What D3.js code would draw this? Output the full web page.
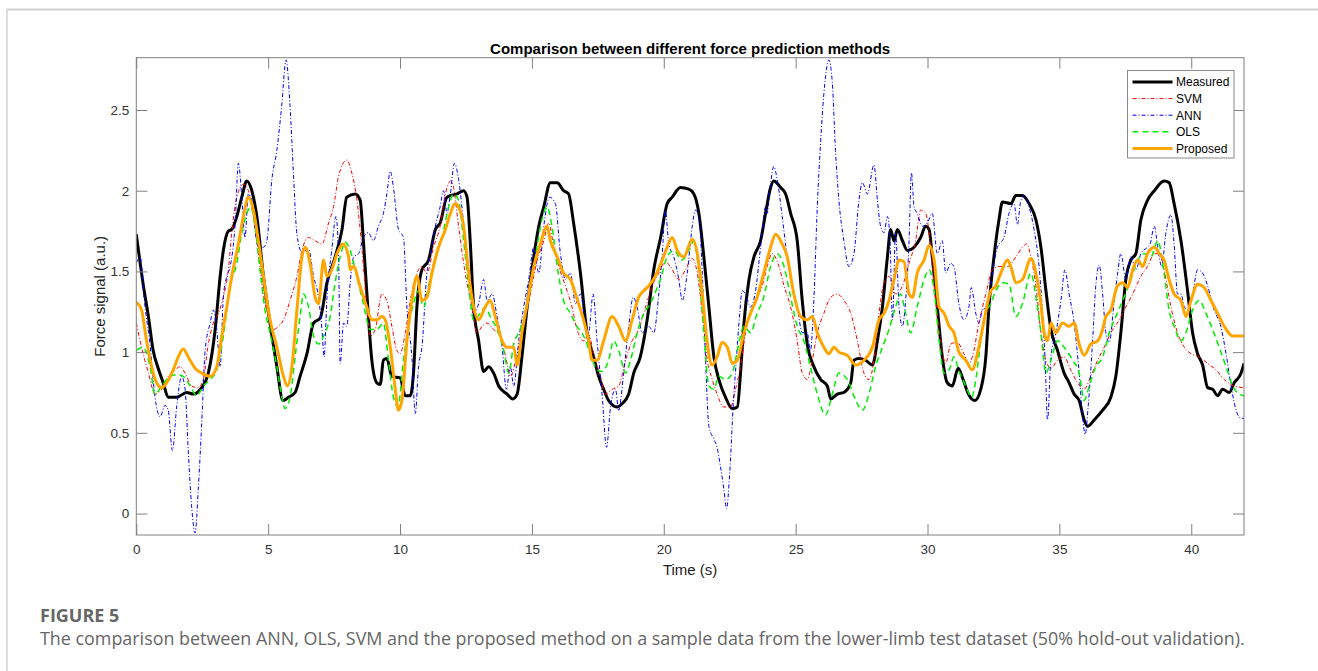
<!DOCTYPE html>
<html>
<head>
<meta charset="utf-8">
<script src="https://cdn.jsdelivr.net/npm/d3@7"></script>
<style>
  body { margin: 0; background: #fff; }
  svg { display: block; }
</style>
</head>
<body>
<svg id="chart" width="1318" height="671"></svg>
<script>
// series: [time (s), force (a.u.)]
const measured = [[0,1.73],[0.27,1.41],[0.46,1.22],[0.64,1.01],[0.83,0.90],[1.02,0.81],[1.21,0.72],[1.53,0.72],[1.91,0.75],[2.16,0.74],[2.48,0.78],[2.73,0.87],[2.99,1.14],[3.18,1.47],[3.30,1.63],[3.49,1.75],[3.62,1.76],[3.81,1.84],[4.0,1.96],[4.19,2.06],[4.38,2.0],[4.57,1.84],[4.82,1.47],[5.07,1.18],[5.33,0.91],[5.56,0.70],[5.77,0.72],[6.02,0.75],[6.21,0.85],[6.47,0.99],[6.72,1.18],[6.97,1.21],[7.23,1.43],[7.54,1.59],[7.80,1.76],[7.98,1.96],[8.30,1.98],[8.49,1.94],[8.61,1.69],[8.74,1.37],[8.93,0.95],[9.12,0.81],[9.25,0.80],[9.37,0.95],[9.50,0.96],[9.69,0.85],[10.0,0.84],[10.2,0.73],[10.39,0.73],[10.51,0.87],[10.64,1.28],[10.83,1.51],[11.08,1.57],[11.34,1.76],[11.52,1.80],[11.78,1.96],[12.16,1.98],[12.41,2.0],[12.54,1.96],[12.66,1.69],[12.79,1.28],[12.98,1.07],[13.17,0.88],[13.36,0.91],[13.55,0.87],[13.74,0.79],[14.06,0.74],[14.27,0.71],[14.44,0.74],[14.62,0.97],[14.82,1.28],[15.07,1.59],[15.26,1.78],[15.45,1.90],[15.70,2.05],[15.96,2.05],[16.2,2.0],[16.39,1.98],[16.58,1.80],[16.84,1.49],[17.09,1.12],[17.34,0.97],[17.53,0.85],[17.72,0.77],[17.91,0.70],[18.23,0.66],[18.42,0.68],[18.67,0.74],[18.86,0.87],[19.11,0.97],[19.37,1.20],[19.62,1.51],[19.88,1.71],[20.13,1.92],[20.32,1.96],[20.63,2.02],[20.95,2.01],[21.14,1.98],[21.33,1.86],[21.52,1.59],[21.71,1.28],[21.9,0.97],[22.09,0.83],[22.34,0.72],[22.6,0.65],[22.79,0.66],[22.91,0.87],[23.04,1.18],[23.23,1.45],[23.42,1.59],[23.67,1.69],[23.86,1.86],[24.05,2.02],[24.17,2.06],[24.43,2.02],[24.62,1.98],[24.81,1.86],[25.06,1.69],[25.25,1.32],[25.44,1.05],[25.69,0.91],[25.95,0.83],[26.2,0.79],[26.33,0.71],[26.58,0.74],[26.83,0.75],[27.09,0.81],[27.21,0.95],[27.40,0.96],[27.65,0.95],[27.91,0.92],[28.1,1.07],[28.29,1.28],[28.48,1.59],[28.6,1.76],[28.73,1.69],[28.86,1.76],[29.05,1.69],[29.24,1.63],[29.49,1.65],[29.74,1.71],[29.93,1.78],[30.06,1.76],[30.18,1.59],[30.37,1.28],[30.56,0.97],[30.75,0.81],[30.94,0.79],[31.16,0.90],[31.35,0.83],[31.55,0.74],[31.8,0.70],[32.02,0.77],[32.21,0.97],[32.33,1.28],[32.52,1.59],[32.71,1.82],[32.84,1.93],[33.16,1.92],[33.35,1.97],[33.6,1.97],[33.85,1.92],[34.11,1.82],[34.3,1.65],[34.49,1.38],[34.68,1.14],[34.93,1.01],[35.18,0.87],[35.37,0.81],[35.56,0.74],[35.75,0.70],[35.94,0.58],[36.07,0.54],[36.32,0.58],[36.64,0.64],[36.95,0.72],[37.14,0.85],[37.33,1.12],[37.52,1.45],[37.71,1.57],[37.9,1.61],[38.09,1.82],[38.34,1.94],[38.6,2.0],[38.97,2.06],[39.16,2.05],[39.35,1.92],[39.61,1.69],[39.86,1.38],[40.05,1.12],[40.24,0.99],[40.43,0.92],[40.62,0.78],[40.81,0.77],[41.0,0.73],[41.19,0.77],[41.44,0.75],[41.63,0.81],[41.89,0.87],[42,0.93]];

const svm = [[0,1.18],[0.2,1.03],[0.46,0.87],[0.71,0.74],[0.96,0.77],[1.21,0.85],[1.47,0.89],[1.66,0.91],[1.85,0.87],[2.10,0.79],[2.35,0.78],[2.54,0.83],[2.73,1.05],[2.92,1.18],[3.11,1.24],[3.30,1.34],[3.49,1.51],[3.62,1.74],[3.81,1.96],[4.06,2.04],[4.25,2.0],[4.44,1.84],[4.63,1.61],[4.82,1.36],[5.01,1.22],[5.20,1.14],[5.39,1.16],[5.58,1.20],[5.83,1.32],[6.09,1.47],[6.28,1.63],[6.53,1.71],[6.78,1.69],[7.04,1.67],[7.29,1.80],[7.48,1.90],[7.67,2.09],[7.98,2.19],[8.17,2.11],[8.36,1.95],[8.55,1.65],[8.74,1.28],[8.87,1.10],[9.06,1.14],[9.31,1.36],[9.50,1.32],[9.69,1.16],[9.88,1.01],[10.0,0.99],[10.2,1.12],[10.39,1.32],[10.64,1.49],[10.83,1.53],[11.02,1.49],[11.27,1.65],[11.52,1.78],[11.72,1.98],[11.91,2.06],[12.03,2.02],[12.22,1.78],[12.47,1.49],[12.73,1.28],[12.92,1.12],[13.11,1.16],[13.30,1.18],[13.55,1.14],[13.80,1.10],[14.06,0.93],[14.18,0.85],[14.44,0.99],[14.69,1.18],[14.94,1.36],[15.20,1.57],[15.45,1.69],[15.64,1.80],[15.83,1.65],[16.02,1.53],[16.27,1.41],[16.52,1.28],[16.71,1.14],[16.96,1.07],[17.15,1.11],[17.34,0.99],[17.60,0.85],[17.79,0.74],[18.04,0.77],[18.29,0.79],[18.55,0.95],[18.80,1.07],[19.05,1.14],[19.31,1.28],[19.56,1.41],[19.81,1.49],[20.06,1.56],[20.25,1.53],[20.57,1.45],[20.82,1.51],[21.08,1.58],[21.27,1.49],[21.46,1.24],[21.65,0.95],[21.84,0.83],[22.02,0.74],[22.28,0.66],[22.53,0.66],[22.72,0.77],[22.91,0.91],[23.10,1.12],[23.29,1.24],[23.48,1.32],[23.73,1.41],[23.92,1.53],[24.11,1.61],[24.37,1.53],[24.56,1.41],[24.81,1.28],[25.06,1.07],[25.25,0.87],[25.44,0.83],[25.63,0.95],[25.82,1.12],[26.07,1.24],[26.33,1.34],[26.58,1.36],[26.83,1.32],[27.09,1.24],[27.34,1.07],[27.59,0.87],[27.78,0.83],[27.97,0.95],[28.16,1.24],[28.35,1.43],[28.54,1.47],[28.79,1.36],[29.05,1.41],[29.30,1.55],[29.55,1.69],[29.74,1.88],[29.93,1.86],[30.12,1.65],[30.31,1.32],[30.50,1.07],[30.69,0.93],[30.88,1.05],[31.13,1.06],[31.38,0.99],[31.57,0.93],[31.70,0.97],[31.95,1.18],[32.21,1.36],[32.46,1.51],[32.71,1.53],[33.03,1.53],[33.35,1.59],[33.60,1.65],[33.76,1.67],[33.92,1.59],[34.11,1.41],[34.30,1.12],[34.49,0.95],[34.68,0.90],[34.93,0.95],[35.18,0.97],[35.43,0.89],[35.69,0.81],[35.94,0.77],[36.19,0.85],[36.45,0.95],[36.70,1.03],[36.95,1.12],[37.27,1.20],[37.52,1.28],[37.78,1.36],[38.09,1.47],[38.34,1.53],[38.60,1.61],[38.79,1.61],[38.97,1.51],[39.23,1.28],[39.48,1.12],[39.74,1.03],[39.99,0.99],[40.30,0.97],[40.62,0.93],[40.94,0.89],[41.25,0.83],[41.63,0.79],[42,0.78]];

const ann = [[0,1.55],[0.14,1.59],[0.33,1.28],[0.52,1.05],[0.71,0.72],[0.90,0.60],[1.09,0.67],[1.21,0.64],[1.37,0.39],[1.53,0.66],[1.72,0.85],[1.85,0.77],[1.97,0.39],[2.10,0.04],[2.23,-0.12],[2.35,0.15],[2.48,0.56],[2.61,1.01],[2.80,1.18],[2.92,1.26],[3.05,1.14],[3.18,0.91],[3.30,1.34],[3.43,1.47],[3.56,1.53],[3.75,1.80],[3.87,2.17],[4.0,1.96],[4.12,1.71],[4.25,1.98],[4.38,1.94],[4.50,1.76],[4.63,1.65],[4.82,1.65],[4.95,1.69],[5.14,2.07],[5.33,2.25],[5.51,2.52],[5.68,2.81],[5.83,2.52],[5.96,2.10],[6.09,1.73],[6.28,1.62],[6.53,1.64],[6.72,1.47],[6.91,1.34],[7.04,1.14],[7.12,0.97],[7.23,1.34],[7.41,1.63],[7.57,1.84],[7.67,1.59],[7.73,0.93],[7.86,1.18],[7.98,1.16],[8.11,1.43],[8.24,1.59],[8.43,1.61],[8.61,1.71],[8.80,1.74],[8.99,1.69],[9.18,1.78],[9.37,1.86],[9.50,1.98],[9.63,2.12],[9.75,2.02],[9.94,1.76],[10.13,1.71],[10.26,1.28],[10.45,0.97],[10.58,0.62],[10.70,0.91],[10.83,1.03],[11.02,1.49],[11.15,1.61],[11.34,1.78],[11.52,1.90],[11.65,2.0],[11.78,1.86],[11.91,1.98],[12.06,2.17],[12.22,2.07],[12.41,1.80],[12.60,1.51],[12.79,1.24],[12.98,1.30],[13.17,1.45],[13.30,1.32],[13.49,1.36],[13.68,1.22],[13.87,1.03],[14.03,0.77],[14.18,0.91],[14.31,0.79],[14.50,1.07],[14.69,1.28],[14.88,1.45],[15.07,1.65],[15.26,1.49],[15.45,1.78],[15.67,1.96],[15.89,1.92],[16.08,1.61],[16.27,1.45],[16.46,1.49],[16.65,1.30],[16.84,1.36],[17.03,1.18],[17.15,1.12],[17.32,1.36],[17.47,1.07],[17.66,0.74],[17.83,0.41],[17.98,0.66],[18.17,0.77],[18.29,0.64],[18.48,0.87],[18.67,1.16],[18.84,1.34],[18.99,1.28],[19.18,1.12],[19.43,1.16],[19.62,1.12],[19.81,1.36],[19.94,1.60],[20.06,1.88],[20.19,1.67],[20.38,1.59],[20.57,1.45],[20.70,1.32],[20.89,1.49],[21.08,1.78],[21.20,1.88],[21.33,1.84],[21.46,1.49],[21.58,0.97],[21.71,0.54],[21.90,0.46],[22.02,0.41],[22.15,0.29],[22.28,0.15],[22.38,0.03],[22.50,0.25],[22.63,0.66],[22.76,0.97],[22.88,1.24],[22.97,1.38],[23.10,1.36],[23.29,1.28],[23.48,1.38],[23.67,1.65],[23.86,1.90],[23.92,1.86],[24.02,2.0],[24.17,2.15],[24.30,2.07],[24.49,1.84],[24.68,1.59],[24.87,1.41],[25.06,1.28],[25.25,1.12],[25.44,1.12],[25.56,1.01],[25.69,1.32],[25.82,1.90],[25.95,2.31],[26.07,2.60],[26.26,2.81],[26.39,2.67],[26.51,2.25],[26.64,1.94],[26.83,1.69],[27.02,1.53],[27.21,1.61],[27.40,1.94],[27.53,2.05],[27.72,1.98],[27.97,2.16],[28.10,1.94],[28.22,1.78],[28.35,1.74],[28.48,1.84],[28.58,1.69],[28.67,1.20],[28.79,1.74],[28.92,1.28],[29.05,1.16],[29.17,1.32],[29.30,1.69],[29.39,2.11],[29.49,1.90],[29.61,1.86],[29.80,1.78],[29.99,1.80],[30.18,1.86],[30.37,1.61],[30.56,1.69],[30.69,1.49],[30.88,1.55],[31.0,1.53],[31.19,1.30],[31.38,1.20],[31.57,1.28],[31.66,1.40],[31.83,1.24],[31.95,1.18],[32.08,1.26],[32.27,1.28],[32.46,1.49],[32.65,1.65],[32.90,1.71],[33.09,1.86],[33.28,1.92],[33.41,1.79],[33.54,1.94],[33.69,1.97],[33.85,1.90],[34.04,1.76],[34.23,1.53],[34.36,1.24],[34.46,0.95],[34.55,0.58],[34.68,0.97],[34.87,1.12],[35.06,1.32],[35.21,1.51],[35.37,1.36],[35.56,1.18],[35.75,0.87],[35.88,0.60],[35.98,0.49],[36.09,0.66],[36.26,1.07],[36.38,1.41],[36.51,1.54],[36.64,1.36],[36.76,1.12],[36.89,1.06],[37.08,1.32],[37.21,1.49],[37.33,1.61],[37.52,1.45],[37.71,1.59],[37.90,1.51],[38.09,1.61],[38.34,1.65],[38.44,1.67],[38.60,1.78],[38.73,1.65],[38.88,1.53],[39.04,1.74],[39.23,1.85],[39.35,1.67],[39.48,1.36],[39.61,1.36],[39.74,1.28],[39.86,1.26],[40.05,1.36],[40.24,1.51],[40.43,1.49],[40.62,1.41],[40.87,1.26],[41.12,1.16],[41.32,0.99],[41.51,0.79],[41.70,0.64],[41.89,0.59],[42,0.59]];

const ols = [[0,1.01],[0.26,1.03],[0.52,0.91],[0.71,0.74],[0.96,0.79],[1.28,0.85],[1.53,0.86],[1.78,0.85],[2.04,0.79],[2.29,0.73],[2.54,0.79],[2.80,0.83],[3.05,0.89],[3.30,1.10],[3.56,1.41],[3.81,1.55],[4.0,1.74],[4.19,1.86],[4.34,1.90],[4.50,1.78],[4.69,1.51],[4.88,1.26],[5.07,1.12],[5.33,0.91],[5.52,0.72],[5.64,0.65],[5.83,0.72],[6.02,0.97],[6.21,1.22],[6.34,1.36],[6.53,1.28],[6.72,1.10],[6.91,1.05],[7.10,1.10],[7.35,1.22],[7.54,1.43],[7.73,1.59],[7.92,1.68],[8.11,1.63],[8.36,1.47],[8.61,1.30],[8.87,1.14],[9.12,1.14],[9.37,1.18],[9.56,0.95],[9.75,0.72],[9.92,0.66],[10.13,0.95],[10.32,1.16],[10.51,1.30],[10.70,1.38],[10.89,1.28],[11.08,1.41],[11.34,1.59],[11.59,1.71],[11.84,1.90],[12.03,1.98],[12.22,1.94],[12.41,1.69],[12.6,1.41],[12.79,1.20],[13.04,1.24],[13.23,1.28],[13.42,1.22],[13.68,1.14],[13.93,1.01],[14.12,0.87],[14.31,1.05],[14.50,1.12],[14.75,1.24],[15.0,1.45],[15.19,1.65],[15.38,1.82],[15.57,1.90],[15.76,1.78],[15.96,1.53],[16.2,1.32],[16.46,1.24],[16.71,1.16],[16.96,1.10],[17.22,0.99],[17.47,0.89],[17.66,0.88],[17.91,0.95],[18.10,1.07],[18.29,1.01],[18.55,0.87],[18.74,0.95],[18.99,1.12],[19.24,1.24],[19.49,1.30],[19.68,1.37],[19.87,1.45],[20.13,1.59],[20.38,1.63],[20.69,1.57],[20.95,1.63],[21.14,1.69],[21.33,1.49],[21.52,1.12],[21.71,0.79],[21.9,0.77],[22.09,0.85],[22.34,0.83],[22.6,0.87],[22.79,1.01],[23.04,1.16],[23.29,1.12],[23.54,1.24],[23.79,1.34],[24.05,1.53],[24.30,1.61],[24.56,1.53],[24.81,1.34],[25.06,1.16],[25.31,1.07],[25.56,0.91],[25.82,0.74],[26.13,0.61],[26.39,0.74],[26.64,0.87],[26.96,0.83],[27.28,0.70],[27.53,0.64],[27.78,0.74],[28.03,0.91],[28.29,1.03],[28.54,1.14],[28.79,1.28],[28.98,1.36],[29.17,1.24],[29.36,1.12],[29.61,1.28],[29.87,1.45],[30.06,1.51],[30.25,1.38],[30.44,1.07],[30.63,0.87],[30.82,0.89],[31.0,0.97],[31.2,0.88],[31.45,0.79],[31.67,0.72],[31.85,0.85],[32.02,1.07],[32.21,1.24],[32.40,1.30],[32.59,1.38],[32.84,1.43],[33.09,1.42],[33.35,1.22],[33.60,1.30],[33.92,1.49],[34.11,1.34],[34.30,1.12],[34.49,0.87],[34.68,0.95],[34.93,1.07],[35.18,1.03],[35.50,0.95],[35.75,0.87],[35.94,0.70],[36.13,0.79],[36.38,0.91],[36.64,0.97],[36.89,1.12],[37.14,1.22],[37.40,1.32],[37.71,1.45],[37.97,1.57],[38.22,1.61],[38.47,1.59],[38.73,1.69],[38.97,1.49],[39.16,1.26],[39.35,1.16],[39.61,1.07],[39.80,1.12],[40.05,1.26],[40.30,1.32],[40.56,1.24],[40.81,1.14],[41.06,1.03],[41.32,0.91],[41.57,0.79],[41.82,0.74],[42,0.73]];

const proposed = [[0,1.31],[0.2,1.26],[0.39,1.07],[0.58,0.91],[0.77,0.81],[0.96,0.78],[1.15,0.81],[1.40,0.89],[1.59,0.97],[1.78,1.02],[1.97,0.97],[2.23,0.90],[2.48,0.87],[2.80,0.85],[3.05,0.91],[3.24,1.10],[3.43,1.28],[3.62,1.47],[3.87,1.67],[4.06,1.84],[4.25,1.96],[4.44,1.88],[4.63,1.69],[4.82,1.47],[5.07,1.20],[5.33,1.03],[5.58,0.85],[5.73,0.79],[5.9,0.91],[6.09,1.26],[6.28,1.59],[6.40,1.65],[6.59,1.55],[6.78,1.34],[6.91,1.30],[7.10,1.57],[7.23,1.47],[7.41,1.51],[7.61,1.61],[7.83,1.67],[8.05,1.59],[8.11,1.51],[8.24,1.53],[8.48,1.41],[8.74,1.28],[8.93,1.20],[9.12,1.20],[9.31,1.22],[9.44,1.20],[9.63,1.03],[9.82,0.77],[9.94,0.64],[10.07,0.70],[10.26,1.07],[10.45,1.32],[10.64,1.47],[10.83,1.32],[11.02,1.34],[11.21,1.49],[11.46,1.65],[11.72,1.76],[11.91,1.86],[12.09,1.92],[12.22,1.90],[12.41,1.78],[12.60,1.49],[12.79,1.28],[12.98,1.20],[13.23,1.28],[13.42,1.32],[13.61,1.22],[13.87,1.07],[14.06,1.03],[14.31,1.03],[14.44,0.92],[14.62,1.12],[14.82,1.30],[15.07,1.53],[15.32,1.67],[15.57,1.78],[15.70,1.69],[15.96,1.59],[16.2,1.49],[16.46,1.45],[16.71,1.33],[16.96,1.20],[17.15,1.07],[17.28,0.95],[17.47,0.95],[17.72,1.07],[18.04,1.22],[18.29,1.16],[18.55,1.07],[18.80,1.20],[19.05,1.34],[19.24,1.38],[19.43,1.41],[19.68,1.47],[19.94,1.57],[20.13,1.65],[20.32,1.71],[20.51,1.63],[20.76,1.59],[21.08,1.70],[21.27,1.61],[21.46,1.36],[21.64,1.07],[21.83,0.92],[22.02,0.97],[22.21,1.06],[22.41,1.03],[22.6,0.93],[22.79,0.95],[23.04,1.12],[23.29,1.24],[23.54,1.34],[23.79,1.49],[24.05,1.65],[24.24,1.73],[24.49,1.67],[24.68,1.59],[24.93,1.36],[25.19,1.22],[25.44,1.20],[25.63,1.22],[25.82,1.12],[26.07,1.03],[26.26,0.99],[26.45,1.03],[26.64,1.0],[26.96,0.98],[27.28,0.92],[27.59,0.95],[27.91,1.03],[28.16,1.20],[28.35,1.24],[28.54,1.32],[28.73,1.45],[28.92,1.57],[29.11,1.56],[29.30,1.36],[29.43,1.34],[29.61,1.49],[29.87,1.57],[30.06,1.66],[30.25,1.57],[30.44,1.28],[30.63,1.24],[30.82,1.16],[31.0,1.12],[31.19,1.0],[31.45,0.95],[31.70,0.89],[31.89,0.99],[32.15,1.20],[32.40,1.38],[32.59,1.41],[32.78,1.49],[33.03,1.57],[33.16,1.53],[33.35,1.43],[33.6,1.45],[33.92,1.58],[34.11,1.49],[34.3,1.30],[34.42,1.12],[34.55,1.07],[34.68,1.18],[34.87,1.12],[35.12,1.18],[35.37,1.16],[35.56,1.18],[35.75,1.05],[35.94,0.98],[36.19,1.05],[36.45,1.07],[36.64,1.14],[36.76,1.22],[36.95,1.26],[37.2,1.41],[37.4,1.43],[37.59,1.40],[37.78,1.51],[37.97,1.57],[38.16,1.53],[38.34,1.61],[38.6,1.65],[38.79,1.61],[38.97,1.57],[39.16,1.45],[39.35,1.36],[39.61,1.32],[39.80,1.22],[39.99,1.32],[40.24,1.42],[40.49,1.40],[40.75,1.32],[41.0,1.24],[41.25,1.16],[41.57,1.10],[42,1.10]];

const seriesNames = ["Measured", "SVM", "ANN", "OLS", "Proposed"];
const xTicks = [0, 5, 10, 15, 20, 25, 30, 35, 40];
const yTicks = [0, 0.5, 1, 1.5, 2, 2.5];

const svg = d3.select("#chart");
const font = "'Liberation Sans', Arial, sans-serif";
const captionFont = "'Open Sans', Lato, sans-serif";

const plotLeft = 136.3, plotRight = 1244, plotTop = 57.7, plotBottom = 535;
const x = d3.scaleLinear().domain([0, 42]).range([plotLeft, plotRight]);
const y = d3.scaleLinear().domain([-0.133, 2.824]).range([plotBottom, plotTop]);

// card frame
svg.append("line").attr("x1", 7).attr("x2", 1318).attr("y1", 9.5).attr("y2", 9.5)
  .attr("stroke", "#d2d2d2").attr("stroke-width", 2);
svg.append("line").attr("x1", 7).attr("x2", 7).attr("y1", 9).attr("y2", 671)
  .attr("stroke", "#d2d2d2").attr("stroke-width", 1.5);

// title
svg.append("text")
  .attr("x", (plotLeft + plotRight) / 2).attr("y", 54)
  .attr("text-anchor", "middle")
  .attr("font-family", font).attr("font-weight", "bold").attr("font-size", 15)
  .attr("fill", "#000")
  .text("Comparison between different force prediction methods");

svg.append("defs").append("clipPath").attr("id", "plot")
  .append("rect").attr("x", plotLeft).attr("y", plotTop)
  .attr("width", plotRight - plotLeft).attr("height", plotBottom - plotTop);

const styles = {
  Measured: { data: measured, color: "#000000", width: 3, dash: null },
  SVM: { data: svm, color: "#ff0000", width: 1, dash: "4,2,1,2" },
  ANN: { data: ann, color: "#0000ff", width: 1, dash: "4,2,1,2" },
  OLS: { data: ols, color: "#00ee00", width: 1.5, dash: "6,4" },
  Proposed: { data: proposed, color: "#ffa500", width: 3, dash: null }
};

const line = d3.line()
  .x(d => x(d[0]))
  .y(d => y(d[1]))
  .curve(d3.curveMonotoneX);

const plot = svg.append("g").attr("clip-path", "url(#plot)");
seriesNames.forEach(name => {
  const s = styles[name];
  plot.append("path")
    .datum(s.data)
    .attr("fill", "none")
    .attr("stroke", s.color)
    .attr("stroke-width", s.width)
    .attr("stroke-linejoin", "round")
    .attr("stroke-dasharray", s.dash)
    .attr("d", line);
});

// axes box with inward ticks on all four sides
const axisColor = "#808080";
const tickLen = 11;

const xAxis = svg.append("g").attr("transform", `translate(0,${plotBottom})`)
  .call(d3.axisBottom(x).tickValues(xTicks).tickSize(-tickLen).tickPadding(9).tickFormat(d3.format("")));
const xTop = svg.append("g").attr("transform", `translate(0,${plotTop})`)
  .call(d3.axisTop(x).tickValues(xTicks).tickSize(-tickLen).tickFormat(""));
const yAxis = svg.append("g").attr("transform", `translate(${plotLeft},0)`)
  .call(d3.axisLeft(y).tickValues(yTicks).tickSize(-tickLen).tickPadding(7).tickFormat(d3.format("")));
const yRight = svg.append("g").attr("transform", `translate(${plotRight},0)`)
  .call(d3.axisRight(y).tickValues(yTicks).tickSize(-tickLen).tickFormat(""));

[xAxis, xTop, yAxis, yRight].forEach(g => {
  g.select(".domain").remove();
  g.selectAll(".tick line").attr("stroke", axisColor);
  g.selectAll(".tick text").attr("font-family", font).attr("font-size", 13.5).attr("fill", "#333");
});

svg.append("rect")
  .attr("x", plotLeft).attr("y", plotTop)
  .attr("width", plotRight - plotLeft).attr("height", plotBottom - plotTop)
  .attr("fill", "none").attr("stroke", axisColor).attr("stroke-width", 1);

// axis labels
svg.append("text")
  .attr("x", (plotLeft + plotRight) / 2).attr("y", 575)
  .attr("text-anchor", "middle")
  .attr("font-family", font).attr("font-size", 15).attr("fill", "#222")
  .text("Time (s)");

svg.append("text")
  .attr("transform", `translate(105,${(plotTop + plotBottom) / 2}) rotate(-90)`)
  .attr("text-anchor", "middle")
  .attr("font-family", font).attr("font-size", 15).attr("fill", "#222")
  .text("Force signal (a.u.)");

// legend
const legend = svg.append("g").attr("transform", "translate(1127.5,70.5)");
legend.append("rect")
  .attr("width", 106.5).attr("height", 87.5)
  .attr("fill", "#fff").attr("stroke", "#8a8a8a").attr("stroke-width", 1);
seriesNames.forEach((name, i) => {
  const s = styles[name];
  const ly = 11.5 + i * 16.6;
  legend.append("line")
    .attr("x1", 5).attr("x2", 45).attr("y1", ly).attr("y2", ly)
    .attr("stroke", s.color).attr("stroke-width", s.width)
    .attr("stroke-dasharray", s.dash);
  legend.append("text")
    .attr("x", 48.5).attr("y", ly + 4.3)
    .attr("font-family", font).attr("font-size", 12).attr("fill", "#000")
    .text(name);
});

// figure caption
svg.append("text")
  .attr("x", 40).attr("y", 622)
  .attr("font-family", captionFont).attr("font-weight", "bold")
  .attr("font-size", 18).attr("fill", "#666")
  .text("FIGURE 5");
svg.append("text")
  .attr("x", 40).attr("y", 645)
  .attr("font-family", captionFont)
  .attr("font-size", 17.9).attr("fill", "#666")
  .text("The comparison between ANN, OLS, SVM and the proposed method on a sample data from the lower-limb test dataset (50% hold-out validation).");
</script>
</body>
</html>
